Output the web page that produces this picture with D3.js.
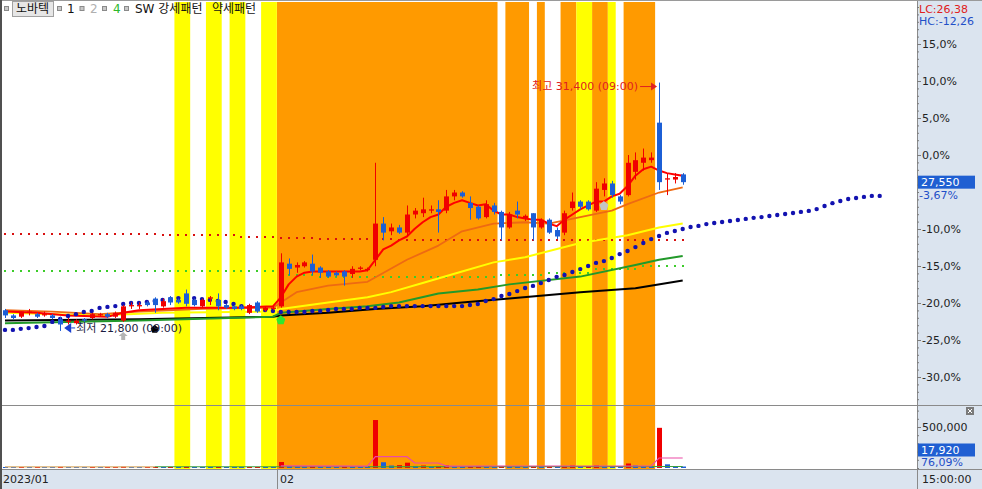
<!DOCTYPE html>
<html><head><meta charset="utf-8">
<script src="https://cdn.jsdelivr.net/npm/d3@7/dist/d3.min.js"></script>
<style>
html,body{margin:0;padding:0;background:#fff;overflow:hidden}
text{font-family:"DejaVu Sans","Noto Sans CJK KR",sans-serif}
</style></head><body>
<svg id="chart" width="982" height="489"></svg>
<script>
// ---------------- DATA ----------------
const basePrice = 28600;              // 0,0% reference price
const lastPrice = 27550;
const lastPct = -3.67;
const lastVolume = 17920;
const lastVolPct = 76.09;
const highLabel = "최고 31,400 (09:00)";
const lowLabel = "최저 21,800 (09:00)";
const highIndex = 83, lowIndex = 7;
const xLabels = [["2023/01", 0], ["02", 35]];
const pctTicks = [15, 10, 5, 0, -10, -15, -20, -25, -30];
const volTicks = [500000];
const legendItems = ["1", "2", "4"];

const opens = [22600,22400,22350,22500,22450,22400,22400,22250,22150,22100,
22250,22300,22400,22450,22350,22200,22750,22750,22900,23050,
22750,23100,23000,23250,23000,22750,23050,23000,22800,22750,
22750,22500,22900,22600,22650,22750,24400,24250,24300,24400,
24250,24100,24050,24100,24000,24200,24150,24550,25950,25650,
25800,25600,26300,26350,26450,26500,26450,27000,27150,26750,
26600,26200,26650,26400,25800,26450,26150,26350,25800,26100,
25700,25600,26550,26800,26800,26450,27250,27500,27000,27050,
27950,28300,28400,29850,27650,27650,27850];
const highs = [22650,22450,22550,22650,22500,22550,22450,22350,22300,22250,
22300,22500,22500,22500,22550,22800,22900,22900,22950,23100,
23050,23150,23050,23400,23050,23050,23150,23250,22850,22800,
22800,22850,22950,22750,22750,24800,24600,24450,24500,24750,
24300,24150,24100,24150,24300,24300,24250,28300,26200,25950,
25900,26650,26550,26950,26650,26850,27250,27250,27200,27000,
26650,26850,26750,26450,26400,26800,26300,26350,26150,26150,
25800,26450,27150,26850,26850,27550,27700,27600,27050,28600,
28700,28850,28700,31400,27900,27900,27900];
const lows = [22300,22250,22300,22400,22300,22350,22250,21800,22050,22050,
22150,22250,22350,22300,22300,22150,22650,22650,22750,22500,
22700,22800,22850,22750,22750,22700,22800,22600,22650,22600,
22600,22450,22500,22550,22600,22700,23950,24050,24250,23950,
23850,23850,23900,23550,23850,24150,24100,24300,25300,25500,
25550,25450,26150,26200,26350,25600,26350,26850,26950,26100,
26100,26150,26300,25300,25750,26150,26050,25300,25750,25550,
25350,25500,26450,26500,26450,26400,27000,26950,26700,27000,
27650,28000,28300,27250,27050,27500,27450];
const closes = [22400,22300,22550,22550,22350,22450,22300,22050,22200,22200,
22200,22450,22450,22350,22500,22750,22800,22800,22800,22800,
22950,22900,22900,22850,22800,23000,23100,22750,22700,22650,
22650,22800,22550,22700,22700,24450,24200,24350,24450,24100,
24050,23900,23950,23900,24200,24250,24200,25950,25600,25800,
25600,26300,26450,26500,26500,26400,27000,27150,27000,26550,
26150,26700,26400,25800,26300,26300,26250,25800,26100,25600,
25450,26350,26800,26600,26500,27300,27500,27050,26800,28300,
28400,28500,28500,27550,27700,27750,27550];
const volumes = [9000,6000,8000,5000,7000,6000,5000,14000,8000,7000,
6000,9000,5000,6000,8000,16000,9000,7000,8000,10000,
9000,11000,8000,15000,9000,7000,6000,12000,8000,6000,
5000,9000,10000,7000,6000,73000,25000,20000,18000,22000,
15000,14000,12000,20000,15000,10000,8000,585000,70000,30000,
35000,65000,25000,30000,15000,25000,30000,20000,15000,20000,
25000,20000,15000,25000,20000,15000,12000,20000,15000,20000,
15000,25000,30000,15000,15000,30000,25000,20000,15000,55000,
30000,25000,20000,490000,45000,20000,17920];

// moving averages: [bar index, price]
const maRed = [[0,22550],[4,22500],[8,22400],[13,22350],[15,22500],[17,22600],[23,22700],[29,22700],[34,22750],[35,23100],[36,23600],[37,23900],[38,24050],[39,24100],[45,24100],[46,24150],[47,24550],[48,24950],[49,25100],[50,25300],[51,25450],[52,25750],[53,26000],[54,26200],[55,26300],[56,26600],[57,26750],[58,26850],[59,26750],[60,26650],[61,26700],[62,26450],[63,26300],[64,26300],[65,26200],[66,26150],[67,26100],[68,26100],[69,25950],[70,25850],[71,26100],[72,26300],[73,26500],[74,26650],[75,26800],[76,26800],[77,27000],[78,27100],[79,27400],[80,27800],[81,28050],[82,28150],[83,28000],[84,27900],[85,27850],[86,27800]];
const maOrange = [[0,22600],[6,22550],[12,22450],[17,22550],[25,22650],[34,22700],[35,22900],[37,23300],[41,23550],[46,23700],[51,24550],[55,25100],[58,25650],[62,25950],[66,26000],[69,25950],[73,26200],[77,26450],[79,26700],[83,27150],[86,27350]];
const maYellow = [[0,22500],[12,22400],[20,22500],[34,22550],[35,22650],[41,22900],[46,23100],[49,23300],[53,23650],[58,24100],[62,24450],[66,24650],[73,25200],[79,25500],[83,25800],[86,25950]];
const maGreen = [[0,22100],[17,22200],[34,22350],[35,22500],[41,22650],[46,22750],[50,22900],[55,23250],[60,23400],[64,23600],[73,23900],[80,24350],[83,24550],[86,24700]];
const maBlack = [[0,22200],[17,22250],[34,22350],[35,22400],[41,22500],[47,22650],[53,22750],[58,22900],[64,23050],[73,23300],[80,23450],[86,23750]];

const redDots = [25550,25550,25550,25550,25550,25550,25550,25550,25550,25550,
25550,25550,25550,25550,25550,25550,25550,25550,25550,25550,
25500,25500,25500,25500,25500,25500,25500,25500,25500,25500,
25450,25450,25450,25450,25450,25400,25400,25400,25400,25400,
25350,25350,25350,25350,25350,25350,25350,25350,25350,25350,
25300,25300,25300,25300,25300,25300,25300,25300,25300,25300,
25300,25300,25300,25300,25300,25300,25300,25300,25300,25300,
25300,25300,25300,25300,25300,25300,25300,25300,25300,25300,
25300,25300,25300,25300,25300,25300,25300];
const greenDots = [24100,24100,24100,24100,24100,24100,24100,24100,24100,24100,
24100,24100,24100,24100,24100,24100,24100,24100,24100,24100,
24100,24100,24100,24100,24100,24100,24100,24100,24100,24100,
24100,24100,24100,24100,24100,23950,23950,23950,23950,23950,
23900,23900,23900,23900,23900,23900,23900,23900,23900,23900,
23900,23900,23900,23900,23900,23900,23900,23900,23900,23900,
23900,23900,23900,23950,23950,23950,23950,23950,23950,24050,
24050,24050,24050,24050,24050,24200,24200,24200,24200,24200,
24200,24300,24300,24300,24300,24300,24300];
const blueDots = [21840,21840,21880,21910,21950,21990,22150,22260,22380,22450,
22530,22570,22690,22730,22760,22840,22880,22880,22920,22960,
23000,23030,23070,23070,23070,23030,23000,22960,22920,22840,
22760,22690,22650,22610,22570,22530,22530,22530,22530,22570,
22570,22610,22650,22650,22650,22690,22690,22690,22730,22760,
22760,22760,22760,22760,22760,22760,22760,22760,22760,22800,
22840,22960,23030,23150,23230,23340,23460,23540,23650,23770,
23890,23960,24080,24190,24310,24430,24500,24620,24770,24890,
25040,25200,25350,25470,25590,25660,25740,25820,25860,25930,
25970,26010,26050,26090,26130,26170,26200,26240,26280,26320,
26360,26400,26440,26510,26630,26740,26820,26900,26940,26980,
27020,27020];

const volMaPink = [[35,25000],[46,22000],[47,138000],[51,138000],[52,61000],[55,61000],[56,24000],[82,26000],[83,122000],[86,122000]];
const volMaTan = [[0,14000],[19,14000]];
const volMaGreen = [[19,15000],[35,15000],[86,18000]];

// pattern highlight bands (bar index ranges)
const bandsYellow = [[22,23],[26,27],[29,30],[33,34],[73,74],[77,77]];
const bandsOrange = [[35,62],[64,66],[68,68],[71,72],[75,76],[79,82]];

// signal markers
const signals = [{i:15, kind:"grayArrow"}, {i:19, kind:"black"}, {i:35, kind:"green"}, {i:76, kind:"gray"}];

// ---------------- DRAW ----------------
const PANEL = "#dbe4ef";
const svg = d3.select("#chart");
const defs = svg.append("defs");
defs.append("clipPath").attr("id","clipMain").append("rect").attr("x",2).attr("y",2).attr("width",915).attr("height",403);
defs.append("clipPath").attr("id","clipVol").append("rect").attr("x",2).attr("y",406).attr("width",915).attr("height",63);

svg.append("rect").attr("width",982).attr("height",489).attr("fill","#fff");
svg.append("rect").attr("x",917).attr("y",0).attr("width",65).attr("height",489).attr("fill",PANEL);
svg.append("rect").attr("x",0).attr("y",470).attr("width",917).attr("height",19).attr("fill",PANEL);

const x = d3.scaleLinear().domain([0, 86]).range([5, 682.7]);
const step = x(1) - x(0);
const y = d3.scaleLinear().domain([basePrice*0.70, basePrice*1.15]).range([377, 44]);
const pct = d3.scaleLinear().domain([-30, 15]).range([377, 44]);
const yv = d3.scaleLinear().domain([0, 500000]).range([468, 427]);

const gMain = svg.append("g").attr("clip-path","url(#clipMain)");
const gVol = svg.append("g").attr("clip-path","url(#clipVol)");

function drawBands(list, color){
  list.forEach(([a,b]) => {
    [[gMain,2,403],[gVol,406,63]].forEach(([g,top,h]) => {
      g.append("rect").attr("x", x(a)-step/2).attr("y", top)
        .attr("width", (b-a+1)*step).attr("height", h).attr("fill", color);
    });
  });
}
drawBands(bandsOrange, "#ff9a00");
drawBands(bandsYellow, "#ffff00");

// dotted level lines
gMain.selectAll(".rd").data(redDots).join("rect")
  .attr("x",(d,i)=>Math.round(x(i))-1).attr("y",d=>Math.round(y(d))-1)
  .attr("width",2).attr("height",2).attr("fill","#d81010");
gMain.selectAll(".gd").data(greenDots).join("rect")
  .attr("x",(d,i)=>Math.round(x(i))-1).attr("y",d=>Math.round(y(d))-1)
  .attr("width",2).attr("height",2).attr("fill","#3ccc2a");

// moving averages
const line = d3.line().x(d=>x(d[0])).y(d=>y(d[1]));
[[maBlack,"#000000",2],[maGreen,"#22992a",2],[maYellow,"#ffff00",2],[maOrange,"#ee6a12",1.8],[maRed,"#ff0000",2]]
 .forEach(([data,col,w]) => gMain.append("path").attr("d", line(data))
   .attr("fill","none").attr("stroke",col).attr("stroke-width",w).attr("stroke-linejoin","round"));

// leading span dots
gMain.selectAll(".bd").data(blueDots).join("circle")
  .attr("cx",(d,i)=>x(i)).attr("cy",d=>y(d)).attr("r",2.2).attr("fill","#1212b0");

// candles
const UP = "#f00000", DOWN = "#1c5fd6";
const idx = d3.range(opens.length);
const col = i => closes[i] >= opens[i] ? UP : DOWN;
gMain.selectAll(".wick").data(idx).join("line")
  .attr("x1", i=>Math.round(x(i))+0.5).attr("x2", i=>Math.round(x(i))+0.5)
  .attr("y1", i=>y(highs[i])).attr("y2", i=>y(lows[i]))
  .attr("stroke", col).attr("stroke-width",1);
gMain.selectAll(".body").data(idx).join("rect")
  .attr("x", i=>Math.round(x(i))-2).attr("width",5)
  .attr("y", i=>Math.min(y(opens[i]), y(closes[i])))
  .attr("height", i=>Math.max(1, Math.abs(y(opens[i])-y(closes[i]))))
  .attr("fill", col);

// signal markers
function pentagon(cx, cy, s){
  return `M${cx},${cy-s}L${cx+s},${cy-s*0.15}L${cx+s*0.62},${cy+s}L${cx-s*0.62},${cy+s}L${cx-s},${cy-s*0.15}Z`;
}
signals.forEach(s => {
  const cx = x(s.i);
  if (s.kind === "green") gMain.append("path").attr("d", pentagon(cx, y(lows[s.i])+12, 4.5)).attr("fill","#2ee82e");
  if (s.kind === "black") gMain.append("path").attr("d", pentagon(cx, y(lows[s.i])+16, 4)).attr("fill","#000");
  if (s.kind === "gray") gMain.append("path").attr("d", pentagon(cx, y(lows[s.i])+9, 4.5)).attr("fill","#c4c4c4");
  if (s.kind === "grayArrow") {
    const cy = y(lows[s.i])+14;
    gMain.append("path").attr("d", `M${cx},${cy-4}L${cx+4.5},${cy}L${cx+2},${cy}L${cx+2},${cy+4}L${cx-2},${cy+4}L${cx-2},${cy}L${cx-4.5},${cy}Z`).attr("fill","#b4b4b4");
  }
});

// high / low annotations
{
  const hx = x(highIndex), hy = y(highs[highIndex]) + 4;
  gMain.append("line").attr("x1",hx-19).attr("x2",hx-7).attr("y1",hy).attr("y2",hy).attr("stroke","#e02020").attr("stroke-width",1);
  gMain.append("path").attr("d",`M${hx-2},${hy}L${hx-8},${hy-4}L${hx-8},${hy+4}Z`).attr("fill","#e02020");
  gMain.append("text").attr("x",hx-21).attr("y",hy).attr("text-anchor","end").attr("dominant-baseline","central")
    .attr("font-size",11).attr("fill","#e02020").text(highLabel);
  const lx = x(lowIndex), ly = y(lows[lowIndex]) - 3;
  gMain.append("path").attr("d",`M${lx+4},${ly}L${lx+11},${ly-5}L${lx+11},${ly+5}Z`).attr("fill","#1a3fd0");
  gMain.append("line").attr("x1",lx+11).attr("x2",lx+15).attr("y1",ly).attr("y2",ly).attr("stroke","#1a3fd0");
  gMain.append("text").attr("x",lx+16).attr("y",ly+1).attr("dominant-baseline","central")
    .attr("font-size",11).attr("fill","#1b1b40").text(lowLabel);
}

// volume (red when volume rises vs previous bar, blue when it falls)
const vcol = i => i === 0 ? col(0) : (volumes[i] >= volumes[i-1] ? UP : DOWN);
gVol.selectAll(".vb").data(idx).join("rect")
  .attr("x", i=>Math.round(x(i))-2).attr("width",5)
  .attr("y", i=>Math.min(467, yv(volumes[i])))
  .attr("height", i=>Math.max(1, 468-Math.min(467, yv(volumes[i]))))
  .attr("fill", vcol);
const vline = d3.line().x(d=>x(d[0])).y(d=>yv(d[1]));
[[volMaTan,"#d8ad6a"],[volMaGreen,"#3f9f3f"],[volMaPink,"#ec4aa6"]].forEach(([d,c]) =>
  gVol.append("path").attr("d", vline(d)).attr("fill","none").attr("stroke",c).attr("stroke-width",1.2));

// frame lines
svg.append("line").attr("x1",0).attr("x2",982).attr("y1",405.5).attr("y2",405.5).attr("stroke","#8a8a8a");
svg.append("line").attr("x1",0).attr("x2",982).attr("y1",469.5).attr("y2",469.5).attr("stroke","#8a8a8a");
svg.append("line").attr("x1",917.5).attr("x2",917.5).attr("y1",0).attr("y2",489).attr("stroke","#8a8a8a");
svg.append("line").attr("x1",0).attr("x2",982).attr("y1",0.5).attr("y2",0.5).attr("stroke","#9a9a9a");
svg.append("rect").attr("x",0).attr("y",0).attr("width",2).attr("height",489).attr("fill","#505050");

// right axes
const fmtPct = (d, n=1) => (d<0?"-":"") + Math.abs(d).toFixed(n).replace(".",",") + "%";
const gMinor = svg.append("g").attr("transform","translate(917,0)")
  .call(d3.axisRight(pct).tickValues(d3.range(-33, 21)).tickSize(2).tickFormat(""));
const gPct = svg.append("g").attr("transform","translate(917,0)")
  .call(d3.axisRight(pct).tickValues(pctTicks).tickSize(4).tickPadding(1).tickFormat(d => fmtPct(d)));
const gVmin = svg.append("g").attr("transform","translate(917,0)")
  .call(d3.axisRight(yv).tickValues(d3.range(0, 700001, 100000)).tickSize(2).tickFormat(""));
const gVax = svg.append("g").attr("transform","translate(917,0)")
  .call(d3.axisRight(yv).tickValues(volTicks).tickSize(4).tickPadding(1).tickFormat(d3.format(",")));
[gMinor,gPct,gVmin,gVax].forEach(g => {
  g.select(".domain").remove();
  g.selectAll("line").attr("stroke","#7c7c7c");
  g.selectAll("text").attr("font-size",11).attr("fill","#222").attr("font-family",'"DejaVu Sans","Noto Sans CJK KR",sans-serif');
});
gVmin.selectAll(".tick").filter(d => yv(d) < 408 || yv(d) > 468).remove();
gMinor.selectAll(".tick").filter(d => pct(d) < 3 || pct(d) > 403).remove();

// LC / HC
svg.append("text").attr("x",919).attr("y",9).attr("dominant-baseline","central").attr("font-size",11).attr("fill","#e02020").text("LC:26,38");
svg.append("text").attr("x",919).attr("y",21).attr("dominant-baseline","central").attr("font-size",11).attr("fill","#1f4fc8").text("HC:-12,26");

// current price label
{
  const cy = y(lastPrice);
  svg.append("text").attr("x",919).attr("y",cy+13).attr("dominant-baseline","central").attr("font-size",11).attr("fill","#1f4fc8")
    .text(fmtPct(lastPct, 2));
  svg.append("rect").attr("x",918).attr("y",cy-6.5).attr("width",57).attr("height",13).attr("fill","#1f5fd2");
  svg.append("text").attr("x",921).attr("y",cy).attr("dominant-baseline","central").attr("font-size",11).attr("fill","#fff")
    .text(d3.format(",")(lastPrice));
}
// current volume label
{
  svg.append("text").attr("x",921).attr("y",462).attr("dominant-baseline","central").attr("font-size",11).attr("fill","#1f4fc8")
    .text(fmtPct(lastVolPct, 2));
  svg.append("rect").attr("x",918).attr("y",443.5).attr("width",57).attr("height",13).attr("fill","#1f5fd2");
  svg.append("text").attr("x",921).attr("y",450).attr("dominant-baseline","central").attr("font-size",11).attr("fill","#fff")
    .text(d3.format(",")(lastVolume));
}
// close icon
svg.append("rect").attr("x",966).attr("y",407).attr("width",8).attr("height",8).attr("fill","#7a7a7a");
svg.append("path").attr("d","M968,409L972,413M972,409L968,413").attr("stroke","#fff").attr("stroke-width",1);

// x axis labels
xLabels.forEach(([t,i]) => {
  const px = i === 0 ? 3 : Math.round(x(i) - step/2) + 3;
  if (i !== 0) svg.append("line").attr("x1",px-2.5).attr("x2",px-2.5).attr("y1",470).attr("y2",489).attr("stroke","#8a8a8a");
  svg.append("text").attr("x",px).attr("y",479).attr("dominant-baseline","central").attr("font-size",11).attr("fill","#222").text(t);
});
svg.append("text").attr("x",922).attr("y",479).attr("dominant-baseline","central").attr("font-size",11).attr("fill","#222").text("15:00:00");

// legend
{
  const g = svg.append("g").attr("font-family",'"Noto Sans CJK KR",sans-serif');
  const sq = xx => g.append("rect").attr("x",xx+0.5).attr("y",6.5).attr("width",4).attr("height",4).attr("fill","#c8c8c8").attr("stroke","#8a8a8a");
  sq(4);
  g.append("rect").attr("x",12.5).attr("y",1.5).attr("width",41).attr("height",15).attr("fill","#e6e6e6").attr("stroke","#a0a0a0");
  g.append("text").attr("x",16).attr("y",9).attr("dominant-baseline","central").attr("font-size",12).attr("font-family",'"Noto Sans CJK KR",sans-serif').attr("fill","#111").text("노바텍");
  const cols = ["#111","#b0b0b0","#2cb82c"];
  legendItems.forEach((t,k) => {
    sq(57 + k*22.5);
    g.append("text").attr("x",67 + k*23).attr("y",9).attr("dominant-baseline","central").attr("font-size",12).attr("font-family",'"Noto Sans CJK KR",sans-serif').attr("fill",cols[k]).text(t);
  });
  sq(124);
  g.append("text").attr("x",135).attr("y",9).attr("dominant-baseline","central").attr("font-size",12).attr("font-family",'"Noto Sans CJK KR",sans-serif').attr("fill","#111").text("SW 강세패턴");
  g.append("text").attr("x",212).attr("y",9).attr("dominant-baseline","central").attr("font-size",12).attr("font-family",'"Noto Sans CJK KR",sans-serif').attr("fill","#111").text("약세패턴");
}
</script></body></html>
